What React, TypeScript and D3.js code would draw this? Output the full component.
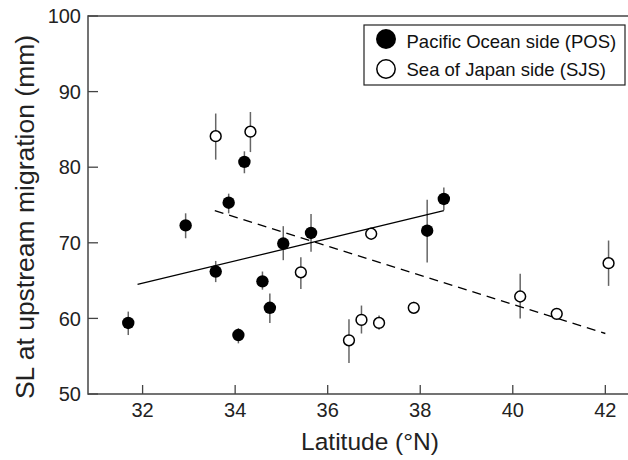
import React from "react";
import * as d3 from "d3";

// Pacific Ocean side (POS)
const posLat = [31.69, 32.93, 33.58, 33.86, 34.07, 34.2, 34.59, 34.75, 35.04, 35.64, 38.15, 38.51];
const posSL = [59.4, 72.3, 66.2, 75.3, 57.8, 80.7, 64.9, 61.4, 69.9, 71.3, 71.6, 75.8];
const posLo = [57.8, 70.6, 64.8, 73.9, 56.7, 79.2, 63.8, 59.4, 67.7, 68.8, 67.4, 74.3];
const posHi = [60.9, 73.9, 67.6, 76.5, 58.7, 82.1, 66.2, 63.3, 72.2, 73.8, 75.7, 77.3];

// Sea of Japan side (SJS)
const sjsLat = [33.58, 34.33, 35.42, 36.46, 36.73, 36.94, 37.11, 37.86, 40.16, 40.95, 42.07];
const sjsSL = [84.1, 84.7, 66.1, 57.1, 59.8, 71.2, 59.4, 61.4, 62.9, 60.6, 67.3];
const sjsLo = [81.0, 82.0, 63.9, 54.1, 58.0, 70.8, 58.5, 61.0, 60.0, 59.9, 64.3];
const sjsHi = [87.1, 87.3, 68.1, 59.9, 61.7, 71.6, 60.4, 62.2, 65.9, 61.2, 70.3];

// regression lines (endpoints)
const posFitLat = [31.89, 38.51];
const posFitSL = [64.5, 74.25];
const sjsFitLat = [33.56, 42.0];
const sjsFitSL = [74.25, 58.0];

const xTicks = [32, 34, 36, 38, 40, 42];
const yTicks = [50, 60, 70, 80, 90, 100];

const legendLabels = ["Pacific Ocean side (POS)", "Sea of Japan side (SJS)"];

const FONT = "'Liberation Sans', Arial, Helvetica, sans-serif";

export default function App() {
  const x = d3.scaleLinear().domain([30.82, 42.49]).range([88, 628]);
  const y = d3.scaleLinear().domain([50, 100]).range([394, 16]);
  const axisColor = "#444";
  const errColor = "#666";

  const line = d3
    .line<[number, number]>()
    .x((d) => x(d[0]))
    .y((d) => y(d[1]));

  const posFit = posFitLat.map((v, i) => [v, posFitSL[i]] as [number, number]);
  const sjsFit = sjsFitLat.map((v, i) => [v, sjsFitSL[i]] as [number, number]);

  return (
    <svg
      width={628}
      height={460}
      style={{ position: "absolute", left: 0, top: 0, display: "block", background: "#fff" }}
      fontFamily={FONT}
    >
      <rect x={0} y={0} width={628} height={460} fill="#fff" />
      {/* axes frame */}
      <line x1={x.range()[0]} x2={x.range()[1]} y1={y(100)} y2={y(100)} stroke={axisColor} strokeWidth={1.5} />
      <line x1={x.range()[0]} x2={x.range()[1]} y1={y(50)} y2={y(50)} stroke={axisColor} strokeWidth={1.5} />
      <line x1={x.range()[0]} x2={x.range()[0]} y1={y(50) + 0.75} y2={y(100) - 0.75} stroke={axisColor} strokeWidth={1.5} />

      {/* y ticks */}
      {yTicks.map((t) => (
        <g key={"y" + t}>
          <line x1={x.range()[0]} x2={x.range()[0] + 10} y1={y(t)} y2={y(t)} stroke={axisColor} strokeWidth={1.3} />
          <text x={81} y={y(t)} dy="0.36em" textAnchor="end" fontSize={20} fill="#222">
            {t}
          </text>
        </g>
      ))}
      {/* x ticks */}
      {xTicks.map((t) => (
        <g key={"x" + t}>
          <line x1={x(t)} x2={x(t)} y1={y(50)} y2={y(50) - 9} stroke={axisColor} strokeWidth={1.3} />
          <text x={x(t)} y={417} textAnchor="middle" fontSize={20} fill="#222">
            {t}
          </text>
        </g>
      ))}

      {/* axis titles */}
      <text x={370} y={450} textAnchor="middle" fontSize={24.5} fill="#222">
        Latitude (°N)
      </text>
      <text
        transform={`translate(33.5, ${(37 + 397) / 2}) rotate(-90)`}
        textAnchor="middle"
        fontSize={26.5}
        fill="#222"
      >
        SL at upstream migration (mm)
      </text>

      {/* error bars */}
      {posLat.map((v, i) => (
        <line key={"pe" + i} x1={x(v)} x2={x(v)} y1={y(posLo[i])} y2={y(posHi[i])} stroke={errColor} strokeWidth={1.5} />
      ))}
      {sjsLat.map((v, i) => (
        <line key={"se" + i} x1={x(v)} x2={x(v)} y1={y(sjsLo[i])} y2={y(sjsHi[i])} stroke={errColor} strokeWidth={1.5} />
      ))}

      {/* regression lines */}
      <path d={line(posFit) || ""} fill="none" stroke="#000" strokeWidth={1.4} />
      <path d={line(sjsFit) || ""} fill="none" stroke="#000" strokeWidth={1.4} strokeDasharray="9,6" />

      {/* markers */}
      {posLat.map((v, i) => (
        <circle key={"p" + i} cx={x(v)} cy={y(posSL[i])} r={6.2} fill="#000" />
      ))}
      {sjsLat.map((v, i) => (
        <circle key={"s" + i} cx={x(v)} cy={y(sjsSL[i])} r={5.4} fill="#fff" stroke="#000" strokeWidth={1.5} />
      ))}

      {/* legend */}
      <rect x={364} y={25} width={261} height={60} fill="#fff" stroke="#222" strokeWidth={1.2} />
      <circle cx={386} cy={39} r={10} fill="#000" />
      <circle cx={386} cy={69} r={9.2} fill="#fff" stroke="#000" strokeWidth={1.5} />
      <text x={406.5} y={48.3} fontSize={18.5} fill="#111">
        {legendLabels[0]}
      </text>
      <text x={406.5} y={75.5} fontSize={18.5} fill="#111">
        {legendLabels[1]}
      </text>
    </svg>
  );
}
